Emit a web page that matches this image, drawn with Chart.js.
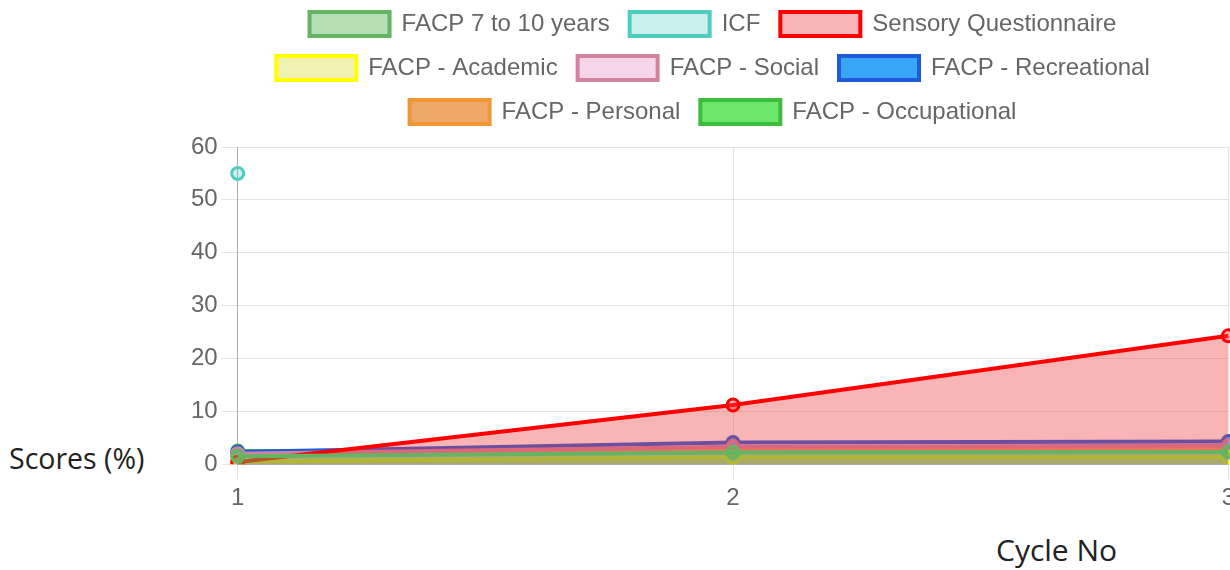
<!DOCTYPE html>
<html>
<head>
<meta charset="utf-8">
<script src="https://cdn.jsdelivr.net/npm/chart.js@4.4.0/dist/chart.umd.min.js"></script>
<style>
  html, body { margin: 0; padding: 0; background: #fff; width: 1230px; height: 570px; overflow: hidden; position: relative; }
  #wrap { position: absolute; left: 187px; top: -8px; width: 1052px; height: 525px; }
  .lbl { position: absolute; font-family: "Open Sans", sans-serif; color: #222; white-space: nowrap; }
</style>
</head>
<body>
<div id="wrap"><canvas id="c"></canvas></div>
<div class="lbl" style="left:9px; top:439px; font-size:28.5px;">Scores (%)</div>
<div class="lbl" style="left:996px; top:529px; font-size:30px;">Cycle No</div>
<script>
const cycles = ["1", "2", "3"];
const seriesNames = ["FACP 7 to 10 years", "ICF", "Sensory Questionnaire", "FACP - Academic", "FACP - Social", "FACP - Recreational", "FACP - Personal", "FACP - Occupational"];
const facp7to10 = [1.5, 2.2, 2.3];
const icf = [55];
const sensory = [0.4, 11.2, 24.3];
const academic = [0.5, 1.3, 1.3];
const social = [2.0, 3.3, 3.5];
const recreational = [2.3, 4.1, 4.3];
const personal = [1.8, 2.9, 3.0];
const occupational = [2.5, 2.6, 2.8];
const yTicks = [0, 10, 20, 30, 40, 50, 60];

const styles = [
  { bg: "rgba(92,184,92,0.45)", border: "rgb(100,180,100)", fill: "origin" },
  { bg: "rgba(78,205,196,0.3)", border: "rgb(78,205,190)", fill: "origin" },
  { bg: "rgba(240,60,60,0.38)", border: "rgb(255,0,0)", fill: "origin" },
  { bg: "rgba(220,220,60,0.4)", border: "rgb(255,255,0)", fill: "origin" },
  { bg: "rgba(230,150,200,0.4)", border: "rgb(210,130,160)", fill: "origin" },
  { bg: "rgb(54,166,245)", border: "rgb(30,90,220)", fill: false },
  { bg: "rgb(237,168,106)", border: "rgb(240,150,50)", fill: false },
  { bg: "rgb(108,230,108)", border: "rgb(60,190,60)", fill: false }
];
const values = [facp7to10, icf, sensory, academic, social, recreational, personal, occupational];

const datasets = seriesNames.map((name, i) => ({
  label: name,
  data: values[i],
  backgroundColor: styles[i].bg,
  borderColor: styles[i].border,
  pointBackgroundColor: styles[i].bg,
  pointBorderColor: styles[i].border,
  borderWidth: 4,
  pointRadius: 6,
  pointBorderWidth: 3,
  fill: styles[i].fill,
  tension: 0
}));

const legendSpacer = {
  id: "legendSpacer",
  beforeInit(chart) {
    const orig = chart.legend.fit;
    chart.legend.fit = function () { orig.call(this); this.height += 13; };
  }
};

const font = { family: "'Liberation Sans', Arial, Helvetica, sans-serif", size: 24 };
new Chart(document.getElementById("c"), {
  type: "line",
  data: { labels: cycles, datasets },
  plugins: [legendSpacer],
  options: {
    responsive: true,
    maintainAspectRatio: false,
    animation: false,
    layout: { padding: 0 },
    plugins: {
      legend: {
        position: "top",
        labels: { font, color: "#666", boxWidth: 80, boxHeight: 24, padding: 20 }
      },
      tooltip: { enabled: false }
    },
    scales: {
      x: {
        grid: { color: "rgba(0,0,0,0.1)", tickLength: 16, lineWidth: 1 },
        border: { color: "rgba(0,0,0,0.25)" },
        ticks: { font, color: "#666", padding: 4 }
      },
      y: {
        min: 0, max: 60,
        afterBuildTicks(scale) { scale.ticks = yTicks.map(v => ({ value: v })); },
        grid: { color: "rgba(0,0,0,0.1)", tickLength: 16 },
        border: { color: "rgba(0,0,0,0.25)" },
        ticks: { font, color: "#666", padding: 4 }
      }
    }
  }
});
</script>
</body>
</html>
